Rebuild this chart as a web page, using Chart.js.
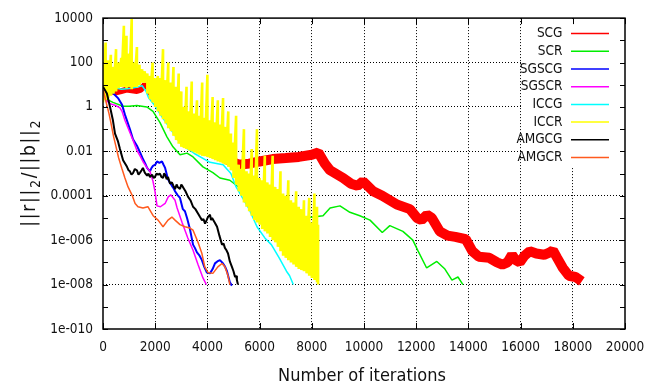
<!DOCTYPE html>
<html>
<head>
<meta charset="utf-8">
<title>Residual history</title>
<script src="https://cdn.jsdelivr.net/npm/chart.js@4/dist/chart.umd.min.js"></script>
<style>
  html, body { margin: 0; padding: 0; background: #ffffff; }
  canvas { display: block; }
</style>
</head>
<body>
<canvas id="residualChart" width="660" height="383"></canvas>
<script>
// series names / colours, in gnuplot plotting order
const seriesNames = ['SCG', 'SCR', 'SGSCG', 'SGSCR', 'ICCG', 'ICCR', 'AMGCG', 'AMGCR'];
const seriesColors = ['#ff0000', '#00ee00', '#0000ff', '#ff00ff', '#00ffff', '#ffff00', '#000000', '#ff5a1e'];

// axis ticks
const yTickValues = [1e4, 1e2, 1, 1e-2, 1e-4, 1e-6, 1e-8, 1e-10];
const yTickLabels = ['10000', '100', '1', '0.01', '0.0001', '1e-006', '1e-008', '1e-010'];
const yMinorValues = [1e3, 1e1, 1e-1, 1e-3, 1e-5, 1e-7, 1e-9];

// SCG (thick noisy red band)
const scgIter = [0, 150, 300, 500, 700, 900, 1100, 1300, 1450, 1600, 1800, 2200, 2600, 3000, 3500, 4000, 4500, 4900,
  5200, 5600, 6000, 6500, 7000, 7500, 8000, 8250, 8500, 8700, 9200, 9500, 9750, 9960, 10350, 10700, 11260, 11760,
  12030, 12200, 12410, 12600, 12900, 13200, 13500, 13900, 14150, 14400, 14800, 15100, 15300, 15500, 15670, 15800,
  15970, 16150, 16350, 16600, 16900, 17120, 17240, 17400, 17620, 17850, 18100, 18346];
const scgRes = [40, 10, 5, 4.5, 5.2, 6, 5.6, 5.2, 6, 10, 6.3, 1.6, 0.5, 0.16, 0.05, 0.016, 6.3e-3, 3.5e-3,
  2.5e-3, 2.8e-3, 3.5e-3, 4.5e-3, 5e-3, 5.6e-3, 7e-3, 8.9e-3, 2.8e-3, 1.4e-3, 6.3e-4, 3.5e-4, 2.8e-4, 4.5e-4, 1.6e-4, 1e-4, 4e-5, 2.5e-5,
  1e-5, 8e-6, 1.4e-5, 1e-5, 2.5e-6, 1.6e-6, 1.4e-6, 1.1e-6, 3.2e-7, 1.8e-7, 1.6e-7, 1e-7, 8e-8, 1e-7, 2.2e-7, 1.3e-7,
  1e-7, 2e-7, 3.2e-7, 2.5e-7, 2.2e-7, 2.8e-7, 3.5e-7, 1.6e-7, 5.6e-8, 2.5e-8, 2.2e-8, 1.4e-8];

// SCR
const scrIter = [0, 150, 380, 770, 1000, 1300, 1680, 1915, 2180, 2450, 2680, 2950, 3220, 3450, 3830, 4210, 4480, 4860,
  5400, 6000, 6590, 7050, 7400, 7660, 8050, 8430, 8700, 9080, 9460, 9840, 10230, 10700, 10990, 11490, 11870, 12060,
  12400, 12790, 13100, 13370, 13600, 13790];
const scrRes = [3.2, 2.2, 1.6, 1.07, 1.07, 1.17, 1.0, 0.63, 0.2, 0.045, 0.016, 7e-3, 8.3e-3, 5.6e-3, 2e-3, 1.1e-3, 6.3e-4, 5e-4,
  1.6e-4, 3.2e-5, 1.1e-5, 6.3e-6, 8e-6, 1e-5, 1.1e-5, 1.26e-5, 2.8e-5, 3.5e-5, 1.8e-5, 1.26e-5, 8e-6, 2.2e-6, 4.5e-6, 2.5e-6, 1e-6, 3.5e-7,
  5.6e-8, 1.1e-7, 5e-8, 1.6e-8, 2.2e-8, 1e-8];

// SGSCG
const sgscgIter = [0, 400, 575, 730, 840, 1030, 1150, 1300, 1420, 1530, 1620, 1690, 1800, 1860, 1915, 2000, 2070, 2160, 2260, 2320,
  2380, 2490, 2560, 2640, 2700, 2760, 2850, 2950, 3060, 3140, 3220, 3330, 3450, 3520, 3600, 3700, 3790, 3880, 3980, 4100,
  4200, 4290, 4380, 4480, 4600, 4680, 4750, 4860, 4940];
const sgscgRes = [10, 4, 2.5, 1.26, 0.45, 0.1, 0.035, 0.018, 8.9e-3, 4.5e-3, 2.8e-3, 1.8e-3, 1.26e-3, 1.8e-3, 2.2e-3, 2.5e-3, 3.5e-3, 3e-3, 3.5e-3, 2.5e-3,
  1.8e-3, 5.6e-4, 4e-4, 2.8e-4, 2.2e-4, 1.6e-4, 1.1e-4, 8e-5, 2.5e-5, 2e-5, 1e-5, 3.2e-6, 6.3e-7, 4.5e-7, 2.8e-7, 2e-7, 1.26e-7, 6.3e-8, 3.5e-8, 3.2e-8,
  5e-8, 9e-8, 1.1e-7, 1.26e-7, 9e-8, 6.3e-8, 4e-8, 1.26e-8, 9e-9];

// SGSCR
const sgscrIter = [0, 80, 270, 460, 650, 730, 840, 1030, 1150, 1300, 1420, 1530, 1690, 1800, 1915, 1990, 2070, 2200,
  2380, 2500, 2600, 2760, 2840, 3030, 3250, 3450, 3640, 3830, 3960];
const sgscrRes = [8, 2.2, 1.4, 1.2, 0.9, 0.63, 0.25, 0.07, 0.032, 0.011, 6.3e-3, 3.5e-3, 1.8e-3, 1.26e-3, 4.5e-4, 1.6e-4, 3.5e-5, 3.2e-5,
  4.5e-5, 8.9e-5, 1.1e-4, 6.3e-5, 2.8e-5, 6.3e-6, 1.26e-6, 3.5e-7, 8e-8, 2e-8, 1e-8];

// ICCG
const iccgIter = [0, 300, 700, 1100, 1500, 1650, 1750, 2000, 2200, 2500, 3000, 3500, 4100, 4600, 4900, 5100, 5300, 5600,
  5900, 6200, 6450, 6750, 7030, 7150, 7290];
const iccgRes = [20, 8, 6.3, 7, 9, 5, 2.5, 1.1, 0.45, 0.14, 0.02, 8e-3, 3.2e-3, 2.5e-3, 1e-3, 2.5e-4, 1e-4, 2.5e-5,
  4e-6, 1.26e-6, 6.3e-7, 1.6e-7, 4e-8, 2.5e-8, 1e-8];

// ICCR (very spiky): trace top and bottom at each iteration
const iccrIter = [0, 100, 200, 300, 400, 500, 600, 700, 800, 900, 1000, 1100, 1200, 1300, 1400, 1500, 1600, 1700, 1800, 1900,
  2000, 2100, 2200, 2300, 2400, 2500, 2600, 2700, 2800, 2900, 3000, 3100, 3200, 3300, 3400, 3500, 3600, 3700, 3800, 3900,
  4000, 4100, 4200, 4300, 4400, 4500, 4600, 4700, 4800, 4900, 5000, 5100, 5200, 5300, 5400, 5500, 5600, 5700, 5800, 5900,
  6000, 6100, 6200, 6300, 6400, 6500, 6600, 6700, 6800, 6900, 7000, 7100, 7200, 7300, 7400, 7500, 7600, 7700, 7800, 7900,
  8000, 8100, 8200, 8240];
const iccrTop = [79, 790, 126, 224, 63, 400, 100, 160, 4500, 1600, 250, 9000, 100, 500, 80, 50, 40, 32, 25, 100,
  20, 25, 20, 400, 16, 100, 12.6, 63, 8, 32, 5, 1, 8, 0.63, 14, 0.5, 2, 0.4, 12.6, 0.32,
  28, 0.25, 2.8, 0.2, 2, 0.16, 2.5, 0.126, 0.63, 0.063, 0.025, 0.4, 2.5e-3, 1.6e-3, 0.1, 1.26e-3, 1e-3, 0.0126, 8e-4, 0.1,
  6.3e-4, 5e-4, 6.3e-3, 4e-4, 3.2e-4, 6.3e-3, 2.5e-4, 2e-4, 1.26e-3, 1.26e-4, 1e-4, 5e-4, 6.3e-5, 5e-5, 1.6e-4, 3.2e-5, 2.5e-5, 6.3e-5, 1.26e-5, 8e-5,
  6.3e-6, 1.26e-4, 3.2e-5, 5e-6];
const iccrBottom = [1.6, 2, 2.5, 3.2, 4, 5, 7, 8, 8, 7, 8, 6.3, 8, 8, 10, 12.6, 12.6, 4, 2.2, 1.6,
  1, 0.63, 0.4, 0.28, 0.18, 0.11, 0.08, 0.05, 0.032, 0.022, 0.016, 0.014, 0.0126, 0.011, 0.01, 8.9e-3, 7.9e-3, 7e-3, 6.3e-3, 6e-3,
  5.6e-3, 5e-3, 4.5e-3, 4e-3, 3.5e-3, 3.2e-3, 2.8e-3, 2.5e-3, 2e-3, 1.4e-3, 6.3e-4, 3.2e-4, 1.6e-4, 1e-4, 5e-5, 3.2e-5, 2e-5, 1.26e-5, 8e-6, 6.3e-6,
  5e-6, 3.2e-6, 2.5e-6, 2e-6, 1.4e-6, 1e-6, 8e-7, 5e-7, 3.2e-7, 2e-7, 1.6e-7, 1.26e-7, 1e-7, 8e-8, 6.3e-8, 5e-8, 4.5e-8, 4e-8, 3.2e-8, 2.5e-8,
  2e-8, 1.6e-8, 1.26e-8, 1e-8];

// AMGCG (jagged)
const amgcgIter = [0, 150, 270, 380, 460, 575, 650, 770, 920, 980, 1030, 1090, 1150, 1220, 1300, 1360, 1420, 1480, 1530, 1600,
  1690, 1740, 1800, 1880, 1940, 1990, 2050, 2110, 2180, 2240, 2300, 2340, 2380, 2440, 2490, 2570, 2640, 2700, 2760, 2820,
  2870, 2950, 3000, 3060, 3160, 3260, 3350, 3450, 3540, 3640, 3720, 3790, 3850, 3910, 3970, 4020, 4100, 4140, 4180, 4280,
  4370, 4460, 4560, 4620, 4670, 4730, 4790, 4860, 4940, 5000, 5060, 5100, 5130, 5170];
const amgcgRes = [8, 4, 1, 0.25, 0.063, 0.028, 0.0126, 4e-3, 2e-3, 1.4e-3, 1.26e-3, 8.9e-4, 1.05e-3, 1.6e-3, 1.4e-3, 9e-4, 1.1e-3, 1.4e-3, 1.8e-3, 1.1e-3,
  8e-4, 1e-3, 7e-4, 8.9e-4, 6.3e-4, 7e-4, 1e-3, 8.9e-4, 1e-3, 7e-4, 6.3e-4, 1e-3, 8.9e-4, 5.6e-4, 7e-4, 3.5e-4, 4e-4, 2.8e-4, 2e-4, 3.2e-4,
  2.4e-4, 2e-4, 3.2e-4, 2.5e-4, 1.6e-4, 8.9e-5, 6.3e-5, 3.2e-5, 2.5e-5, 1.6e-5, 1.1e-5, 8e-6, 8.9e-6, 5.6e-6, 8e-6, 1.1e-5, 1.4e-5, 8e-6, 1e-5, 6.3e-6,
  4e-6, 1.6e-6, 6.3e-7, 7e-7, 4.5e-7, 3.5e-7, 2.5e-7, 1.1e-7, 6.3e-8, 4e-8, 2.2e-8, 2.5e-8, 1.6e-8, 1e-8];

// AMGCR
const amgcrIter = [0, 100, 230, 300, 400, 500, 600, 730, 840, 960, 1110, 1230, 1340, 1530, 1720, 1920, 2110, 2300, 2490,
  2640, 2760, 2950, 3140, 3330, 3450, 3640, 3790, 3900, 4020, 4210, 4400, 4560, 4670, 4790, 4860];
const amgcrRes = [6.3, 2, 0.5, 0.2, 0.05, 0.016, 5e-3, 1.6e-3, 6.3e-4, 2.5e-4, 1.1e-4, 4.5e-5, 3.2e-5, 2.8e-5, 3.2e-5, 1.26e-5, 8e-6, 4e-6, 8e-6,
  1.1e-5, 8e-6, 5e-6, 4e-6, 3.5e-6, 2.8e-6, 8e-7, 2.5e-7, 6.3e-8, 3.5e-8, 3.2e-8, 6.3e-8, 8.9e-8, 6.3e-8, 2.5e-8, 1e-8];

const FONT = '"DejaVu Sans Condensed", "DejaVu Sans", sans-serif';

function toPoints(iter, res) {
  return iter.map((x, i) => ({ x: x, y: res[i] }));
}

const iccrPoints = iccrIter.flatMap((x, i) => [{ x: x, y: iccrTop[i] }, { x: x, y: iccrBottom[i] }]);

const seriesPoints = [
  toPoints(scgIter, scgRes),
  toPoints(scrIter, scrRes),
  toPoints(sgscgIter, sgscgRes),
  toPoints(sgscrIter, sgscrRes),
  toPoints(iccgIter, iccgRes),
  iccrPoints,
  toPoints(amgcgIter, amgcgRes),
  toPoints(amgcrIter, amgcrRes)
];
const lineWidths = [10, 1.5, 2, 1.5, 1.5, 2.6, 2, 1.5];

const datasets = seriesNames.map((name, i) => {
  const ds = {
    label: name,
    data: seriesPoints[i],
    borderColor: seriesColors[i],
    backgroundColor: seriesColors[i],
    borderWidth: lineWidths[i],
    pointRadius: 0,
    fill: false,
    tension: 0,
    borderJoinStyle: 'bevel',
    borderCapStyle: 'butt',
    order: seriesNames.length - i // later series drawn on top, like gnuplot
  };
  if (name === 'SCG') {
    ds.segment = { borderWidth: ctx => (ctx.p0.parsed.x < 1700 ? 6 : 10) };
  }
  return ds;
});

function isLabelled(v) {
  return yTickValues.some(t => Math.abs(Math.log10(t) - Math.log10(v)) < 1e-6);
}

// white legend box + entries inside the plot, top right
const legendBox = {
  id: 'legendBox',
  beforeDatasetsDraw(chart) {
    const { ctx, chartArea } = chart;
    ctx.save();
    ctx.fillStyle = '#ffffff';
    ctx.fillRect(chartArea.left + 418.5, chartArea.top + 1, chartArea.right - chartArea.left - 419.5, 148);
    ctx.restore();
  },
  afterDatasetsDraw(chart) {
    const { ctx, chartArea } = chart;
    ctx.save();
    ctx.font = '13.5px ' + FONT;
    ctx.textAlign = 'right';
    ctx.textBaseline = 'middle';
    chart.data.datasets.forEach((ds, i) => {
      const y = chartArea.top + 15.5 + i * 17.7;
      ctx.fillStyle = '#111';
      ctx.fillText(ds.label, chartArea.right - 62.5, y);
      ctx.strokeStyle = ds.borderColor;
      ctx.lineWidth = 1.5;
      ctx.beginPath();
      ctx.moveTo(chartArea.right - 54, y);
      ctx.lineTo(chartArea.right - 16, y);
      ctx.stroke();
    });
    ctx.restore();
  }
};

// gnuplot style frame with inward ticks on all four sides
const frame = {
  id: 'frame',
  afterDatasetsDraw(chart) {
    const { ctx, chartArea: a, scales } = chart;
    ctx.save();
    ctx.strokeStyle = '#000';
    ctx.lineWidth = 1;
    ctx.beginPath();
    scales.x.ticks.forEach(t => {
      const px = Math.round(scales.x.getPixelForValue(t.value)) + 0.5;
      ctx.moveTo(px, a.bottom); ctx.lineTo(px, a.bottom - 6);
      ctx.moveTo(px, a.top); ctx.lineTo(px, a.top + 6);
    });
    scales.y.ticks.forEach(t => {
      const py = Math.round(scales.y.getPixelForValue(t.value)) + 0.5;
      ctx.moveTo(a.left, py); ctx.lineTo(a.left + 5, py);
      ctx.moveTo(a.right, py); ctx.lineTo(a.right - 5, py);
    });
    ctx.stroke();
    ctx.lineWidth = 1.5;
    ctx.strokeRect(a.left, a.top, a.right - a.left, a.bottom - a.top);
    ctx.restore();
  }
};

// axis titles (y title has subscripts, drawn glyph by glyph with gnuplot-like spacing)
const axisTitles = {
  id: 'axisTitles',
  afterDraw(chart) {
    const { ctx, chartArea: a } = chart;
    ctx.save();
    ctx.fillStyle = '#111';
    ctx.font = '18px ' + FONT;
    ctx.textAlign = 'center';
    ctx.textBaseline = 'alphabetic';
    ctx.fillText('Number of iterations', (a.left + a.right) / 2 - 2, 381);

    const glyphs = [];
    [['||r||', 0, 19], ['2', 5, 14], ['/||b||', 0, 19], ['2', 5, 14]].forEach(p => {
      p[0].split('').forEach(ch => glyphs.push([ch, p[1], p[2]]));
    });
    const gap = 1.7;
    ctx.textAlign = 'left';
    let total = 0;
    glyphs.forEach(g => { ctx.font = g[2] + 'px ' + FONT; total += ctx.measureText(g[0]).width + gap; });
    total -= gap;
    ctx.translate(35, (a.top + a.bottom) / 2);
    ctx.rotate(-Math.PI / 2);
    let pos = -total / 2;
    glyphs.forEach(g => {
      ctx.font = g[2] + 'px ' + FONT;
      ctx.fillText(g[0], pos, g[1]);
      pos += ctx.measureText(g[0]).width + gap;
    });
    ctx.restore();
  }
};

new Chart(document.getElementById('residualChart'), {
  type: 'line',
  data: { datasets: datasets },
  options: {
    responsive: false,
    animation: false,
    devicePixelRatio: 1,
    layout: { padding: { left: 0, right: 35, top: 18, bottom: 0 } },
    plugins: { legend: { display: false }, tooltip: { enabled: false } },
    scales: {
      x: {
        type: 'linear',
        min: 0,
        max: 20000,
        ticks: {
          stepSize: 2000, color: '#111', font: { family: FONT, size: 13.5 }, padding: 10, maxRotation: 0, autoSkip: false,
          callback: v => String(v)
        },
        grid: {
          drawTicks: false,
          lineWidth: 1,
          color: ctx => (ctx.tick && ctx.tick.value > 0 && ctx.tick.value < 20000 ? '#000' : 'rgba(0,0,0,0)')
        },
        border: { display: false, dash: [1, 2] },
        afterFit: s => { s.height = 54; }
      },
      y: {
        type: 'logarithmic',
        min: 1e-10,
        max: 1e4,
        afterBuildTicks: s => {
          s.ticks = yTickValues.concat(yMinorValues).sort((p, q) => p - q).map(v => ({ value: v }));
        },
        ticks: {
          autoSkip: false,
          color: '#111',
          font: { family: FONT, size: 13.5 },
          padding: 10,
          callback: v => {
            const k = yTickValues.findIndex(t => Math.abs(Math.log10(t) - Math.log10(v)) < 1e-6);
            return k >= 0 ? yTickLabels[k] : '';
          }
        },
        grid: {
          drawTicks: false,
          lineWidth: 1,
          color: ctx => (ctx.tick && isLabelled(ctx.tick.value) && ctx.tick.value > 1e-10 && ctx.tick.value < 1e4 ? '#000' : 'rgba(0,0,0,0)')
        },
        border: { display: false, dash: [1, 2] },
        afterFit: s => { s.width = 103; }
      }
    }
  },
  plugins: [legendBox, frame, axisTitles]
});
</script>
</body>
</html>
